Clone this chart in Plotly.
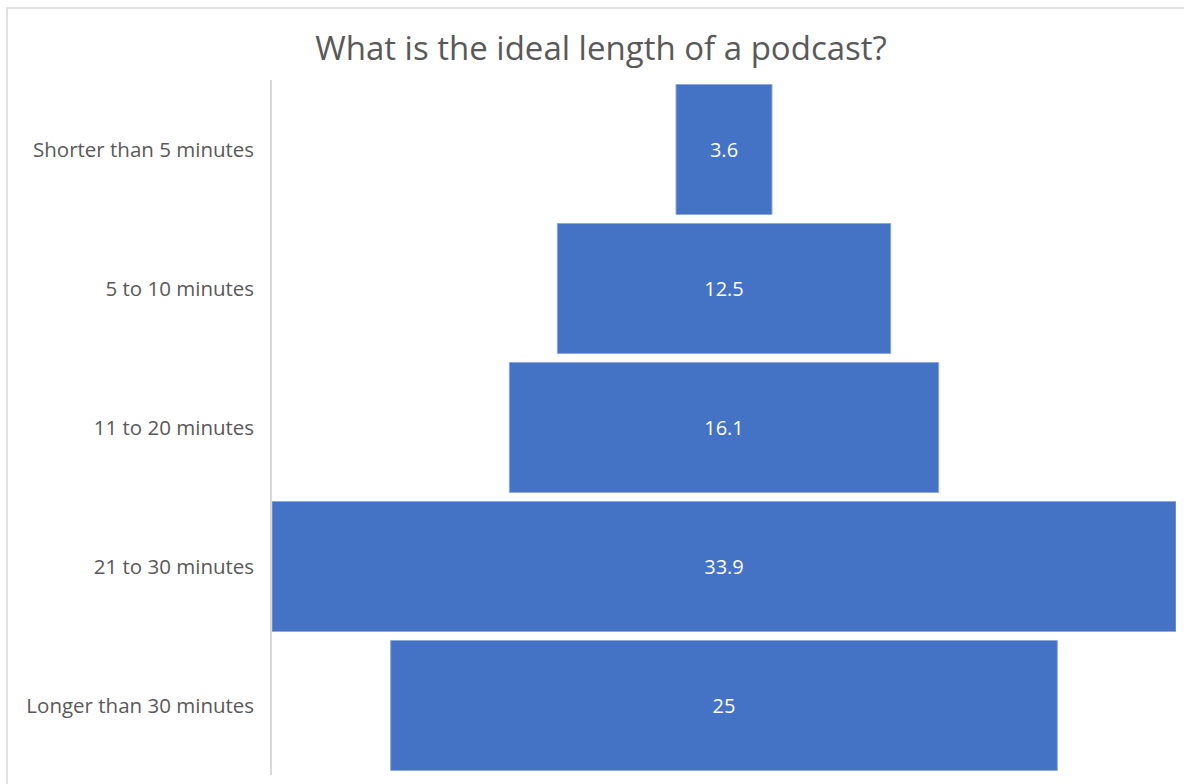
import plotly.graph_objects as go

categories = ["Shorter than 5 minutes", "5 to 10 minutes", "11 to 20 minutes",
              "21 to 30 minutes", "Longer than 30 minutes"]
values = [3.6, 12.5, 16.1, 33.9, 25]
title_text = "What is the ideal length of a podcast?"

W, H = 1184, 784
L, R, T, B = 272, 8, 80, 9
pw, ph = W - L - R, H - T - B

fig = go.Figure(go.Funnel(
    y=categories,
    x=values,
    texttemplate="%{x}",
    textposition="inside",
    insidetextanchor="middle",
    textfont=dict(color="white", size=20, family="Open Sans"),
    marker=dict(color="#4472C4", line=dict(color="#8EA9DB", width=1)),
    connector=dict(visible=False),
    width=0.935,
    hoverinfo="y+x",
))

maxv = max(values)
fig.update_layout(
    width=W, height=H,
    margin=dict(l=L, r=R, t=T, b=B),
    paper_bgcolor="white", plot_bgcolor="white",
    showlegend=False,
    title=dict(text=title_text, x=601 / W, xanchor="center", xref="container",
               y=1 - 48 / H, yanchor="middle", yref="container",
               font=dict(family="Open Sans", size=33, color="#595959")),
    xaxis=dict(range=[-maxv / 2, maxv / 2], visible=False, showgrid=False, zeroline=False),
    yaxis=dict(showline=True, linecolor="#D9D9D9", linewidth=1.5, showgrid=False,
               ticks="", ticklabelstandoff=12,
               tickfont=dict(family="Open Sans", size=20.5, color="#595959")),
    font=dict(family="Open Sans"),
)

fig.add_shape(type="rect", xref="paper", yref="paper",
              x0=(7 - L) / pw, x1=(W + 20 - L) / pw,
              y0=-(B + 20) / ph, y1=(H - B - 8) / ph,
              line=dict(color="#D9D9D9", width=1.5), fillcolor="rgba(0,0,0,0)",
              layer="below")

fig.write_html("out.html", config={"displayModeBar": False},
               post_script="document.body.style.margin='0';")
